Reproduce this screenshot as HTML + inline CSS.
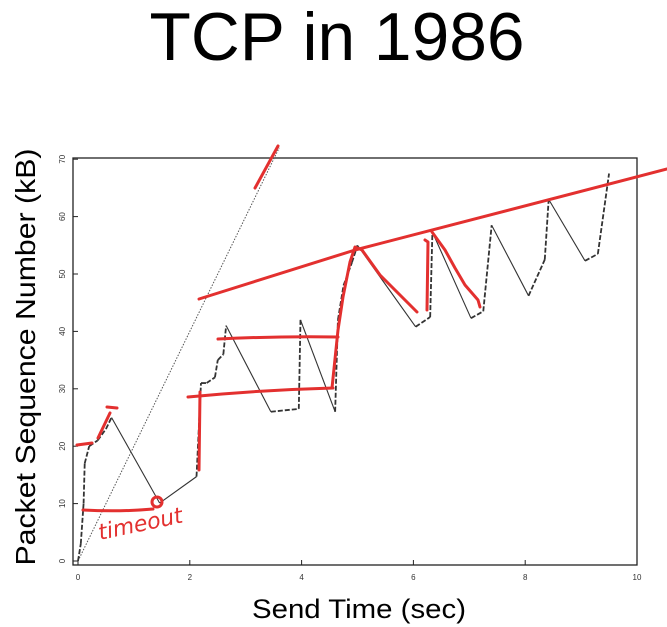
<!DOCTYPE html>
<html><head><meta charset="utf-8"><style>
html,body{margin:0;padding:0;background:#fff;}
svg{display:block;}
</style></head><body>
<svg id="chart" width="667" height="627" viewBox="0 0 667 627">
<text x="337" y="60" font-family="Liberation Sans, sans-serif" font-size="68" text-anchor="middle" textLength="375" lengthAdjust="spacingAndGlyphs">TCP in 1986</text>
<text x="359" y="618" font-family="Liberation Sans, sans-serif" font-size="27" text-anchor="middle" textLength="214" lengthAdjust="spacingAndGlyphs">Send Time (sec)</text>
<text transform="translate(35,357) rotate(-90)" font-family="Liberation Sans, sans-serif" font-size="28" text-anchor="middle" textLength="417" lengthAdjust="spacingAndGlyphs">Packet Sequence Number (kB)</text>
<rect x="73" y="158" width="564" height="407" fill="none" stroke="#222" stroke-width="1.3"/>
<g id="axes"></g>
<g id="marks"></g>
<g id="annotations" stroke="#e3302f" stroke-width="3" fill="none" stroke-linecap="round" stroke-linejoin="round">
<path d="M199,299 L355,250 L667,169"/>
<path d="M218,339 Q280,336 338,337"/>
<path d="M188,397 Q260,390 333,388"/>
<path d="M200,392 L199,470"/>
<path d="M332,388 L338,330 L343,297 L350,262 L355,247 L362,250 L380,275 L417,312"/>
<path d="M425,240 L428,242 L427,310"/>
<path d="M432,232 L445,250 L455,268 L465,285 L478,300 L480,307"/>
<path d="M77,445 L92,443"/>
<path d="M98,438 L110,413"/>
<path d="M107,407 L117,408"/>
<path d="M255,188 L278,146"/>
<path d="M83,510 Q120,512 153,509"/>
<circle cx="157" cy="502" r="5"/>
</g>
<text x="100" y="540" transform="rotate(-12 100 540)" fill="#e3302f" font-family="DejaVu Sans, sans-serif" font-style="italic" font-size="22">timeout</text>
</svg>
<script>
// Data
const xTicks = [0,2,4,6,8,10];
const yTicks = [0,10,20,30,40,50,60,70];
const times = [0,0.05,0.1,0.12,0.2,0.35,0.5,0.6,1.46,2.12,2.2,2.3,2.45,2.5,2.6,2.65,3.45,3.95,3.98,4.6,4.65,4.75,4.9,5.0,6.04,6.3,6.34,7.03,7.25,7.4,8.06,8.35,8.42,9.07,9.3,9.5];
const seqKB = [0,3,10,17,20,21,23,25,10.1,14.7,31,31,32,35,36,41,26,26.5,42,26,42,48,52,55,40.8,42.5,57.3,42.3,43.5,58.5,46.2,52.5,63,52.3,53.5,67.5];
const dashedRise = [1,1,1,1,1,1,1,0,0,1,1,1,1,1,1,0,1,1,0,1,1,1,1,0,1,1,0,1,1,0,1,1,0,1,1];
const refTimes = [0,3.6];
const refSeq = [0,72];

const ns = 'http://www.w3.org/2000/svg';
const X = v => 78 + v*55.9;
const Y = v => 561 - v*5.74;
const axes = document.getElementById('axes');
const marks = document.getElementById('marks');
function mk(tag, attrs, parent){const e=document.createElementNS(ns,tag);for(const k in attrs)e.setAttribute(k,attrs[k]);parent.appendChild(e);return e;}

xTicks.forEach(t=>{
  const l=mk('line',{x1:X(t),x2:X(t),y1:565,y2:560,stroke:'#222','stroke-width':1},axes);
  
  
  const tx=mk('text',{x:X(t),y:580,'font-size':8,'font-family':'Liberation Sans, sans-serif','text-anchor':'middle',fill:'#333'},axes);
  tx.textContent=t;
  
  
});
yTicks.forEach(t=>{
  const l=mk('line',{x1:73,x2:78,y1:Y(t),y2:Y(t),stroke:'#222','stroke-width':1},axes);
  
  
  const tx=mk('text',{transform:`translate(65,${Y(t)}) rotate(-90)`,'font-size':8,'font-family':'Liberation Sans, sans-serif','text-anchor':'middle',fill:'#333'},axes);
  tx.textContent=t;
  
  
});
const ref=mk('line',{x1:X(refTimes[0]),y1:Y(refSeq[0]),x2:X(refTimes[1]),y2:Y(refSeq[1]),stroke:'#555','stroke-width':1,'stroke-dasharray':'1.5 1.5'},marks);


for(let i=0;i<times.length-1;i++){
  const seg=mk('line',{x1:X(times[i]),y1:Y(seqKB[i]),x2:X(times[i+1]),y2:Y(seqKB[i+1]),stroke:'#333','stroke-width':dashedRise[i]?1.8:1.1},marks);
  if(dashedRise[i]) seg.setAttribute('stroke-dasharray','5 2');
  
  
}
</script>
</body></html>
